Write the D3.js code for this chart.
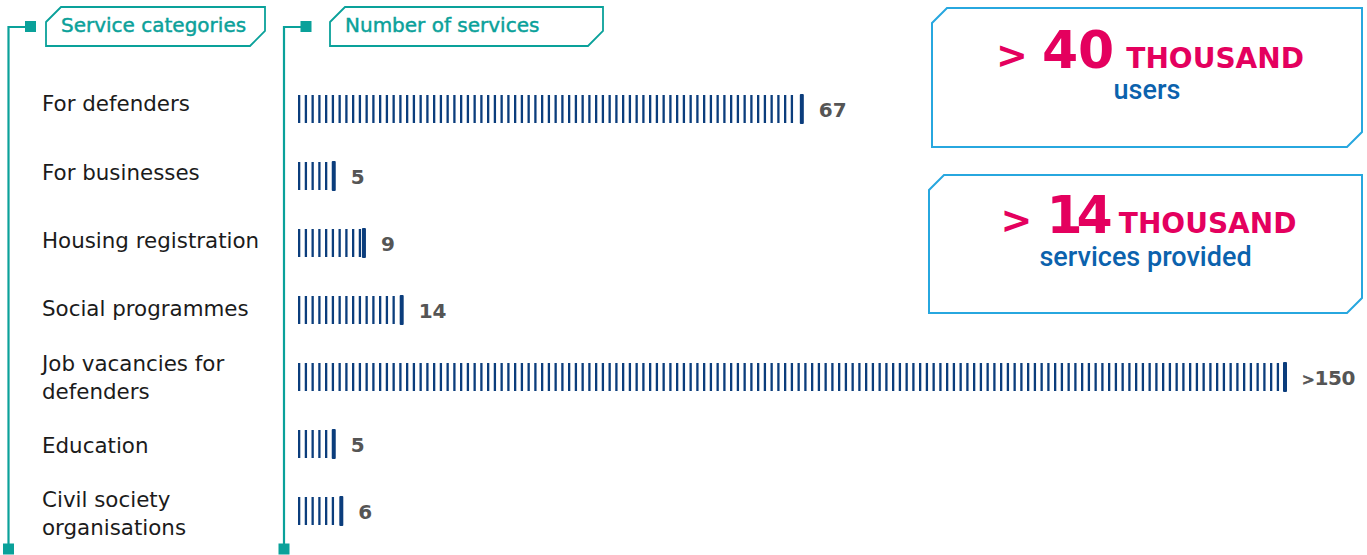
<!DOCTYPE html>
<html>
<head>
<meta charset="utf-8">
<script src="https://cdn.jsdelivr.net/npm/d3@7"></script>
<style>
  html, body { margin: 0; padding: 0; background: #ffffff; }
  svg { display: block; }
</style>
</head>
<body>
<svg id="chart" width="1367" height="555"></svg>
<script>
// ---- data ----
const categories = [
  ["For defenders"],
  ["For businesses"],
  ["Housing registration"],
  ["Social programmes"],
  ["Job vacancies for", "defenders"],
  ["Education"],
  ["Civil society", "organisations"]
];
const serviceCounts = [67, 5, 9, 14, 150, 5, 6];
const countLabels = ["67", "5", "9", "14", ">150", "5", "6"];
const headerTitles = ["Service categories", "Number of services"];
const statNumbers = ["40", "14"];
const statUnits = ["THOUSAND", "THOUSAND"];
const statCaptions = ["users", "services provided"];
// one tick represents one service; the open-ended row is cut at the edge
const axisMax = 131;

// ---- styles ----
const TEAL = "#0aa19a";
const NAVY = "#0b3d7c";
const GREY = "#555555";
const PINK = "#e4005e";
const BLUE = "#0b62ad";
const SKY = "#27a7df";

const svg = d3.select("#chart");

// ---- scales ----
const x = d3.scaleLinear().domain([0, axisMax]).range([298, 1287]).clamp(true);
const yBar = d3.scalePoint().domain(d3.range(categories.length)).range([109, 511]);
const yLabel = d3.scalePoint().domain(d3.range(categories.length)).range([104, 514]);

// ---- chamfered frame helper ----
function chamfer(x0, y0, x1, y1, c) {
  return `M${x0},${y0 + c} L${x0 + c},${y0} L${x1},${y0} L${x1},${y1 - c} L${x1 - c},${y1} L${x0},${y1} Z`;
}

// ---- column brackets and headers ----
const headers = [
  { lineX: 8.5, box: [46, 7, 265, 46], textX: 61 },
  { lineX: 284, box: [330, 7, 603, 46], textX: 345 }
];
headers.forEach((h, i) => {
  const g = svg.append("g");
  g.append("path")
    .attr("d", `M${h.lineX},549 L${h.lineX},27 L${h.lineX + 22},27`)
    .attr("fill", "none").attr("stroke", TEAL).attr("stroke-width", 2.2);
  g.append("rect").attr("x", h.lineX + 16.5).attr("y", 21).attr("width", 11).attr("height", 11).attr("fill", TEAL);
  g.append("rect").attr("x", h.lineX - 5.5).attr("y", 543.5).attr("width", 11).attr("height", 11).attr("fill", TEAL);
  const [bx0, by0, bx1, by1] = h.box;
  g.append("path").attr("d", chamfer(bx0, by0, bx1, by1, 15))
    .attr("fill", "none").attr("stroke", TEAL).attr("stroke-width", 1.8);
  g.append("text").attr("x", h.textX).attr("y", 32)
    .attr("font-family", "'DejaVu Sans', sans-serif").attr("font-size", 20)
    .attr("fill", TEAL).attr("stroke", TEAL).attr("stroke-width", 0.45)
    .text(headerTitles[i]);
});

// ---- category labels ----
const labelG = svg.append("g")
  .attr("font-family", "'DejaVu Sans', sans-serif").attr("font-size", 21.4).attr("fill", "#1b1b1b");
categories.forEach((lines, i) => {
  const cy = yLabel(i);
  const lh = 28;
  const top = cy - (lines.length - 1) * lh / 2;
  lines.forEach((t, j) => {
    labelG.append("text").attr("x", 42).attr("y", top + j * lh).attr("dy", "0.35em").text(t);
  });
});

// ---- tick bars ----
const barH = 28;
const tickStep = 6.75;
const bars = svg.append("g");
serviceCounts.forEach((v, i) => {
  const end = x(v);
  const cy = yBar(i);
  const g = bars.append("g");
  const ticks = d3.range(x(0), end - 7, tickStep);
  g.selectAll("rect.tick").data(ticks).join("rect")
    .attr("class", "tick")
    .attr("x", d => d).attr("y", cy - barH / 2)
    .attr("width", 2.3).attr("height", barH)
    .attr("fill", NAVY);
  g.append("rect").attr("x", end - 4).attr("y", cy - barH / 2 - 1)
    .attr("width", 4).attr("height", barH + 2).attr("rx", 1).attr("fill", NAVY);
  const label = g.append("text").attr("x", end + 15).attr("y", cy + 1).attr("dy", "0.35em")
    .attr("font-family", "'DejaVu Sans', sans-serif").attr("font-weight", "bold")
    .attr("font-size", 20).attr("fill", GREY);
  const txt = countLabels[i];
  if (txt.startsWith(">")) {
    label.append("tspan").attr("font-size", 15).attr("font-weight", "normal")
      .attr("stroke", GREY).attr("stroke-width", 0.8).text(">");
    label.append("tspan").attr("letter-spacing", -0.5).text(txt.slice(1));
  } else {
    label.text(txt);
  }
});

// ---- headline stat boxes ----
const stats = [
  { box: [932, 8, 1362, 147], numY: 68, capY: 99 },
  { box: [929, 175, 1362, 313], numY: 233, capY: 266 }
];
stats.forEach((s, i) => {
  const [bx0, by0, bx1, by1] = s.box;
  const cx = (bx0 + bx1) / 2;
  const g = svg.append("g");
  g.append("path").attr("d", chamfer(bx0, by0, bx1, by1, 15))
    .attr("fill", "none").attr("stroke", SKY).attr("stroke-width", 2);
  const t = g.append("text").attr("x", cx + 3).attr("y", s.numY).attr("text-anchor", "middle")
    .attr("font-family", "'DejaVu Sans', sans-serif").attr("fill", PINK);
  t.append("tspan").attr("font-size", 38).attr("font-weight", "bold").text(">");
  t.append("tspan").attr("font-size", 52).attr("font-weight", "bold").attr("dx", 14)
    .attr("letter-spacing", statNumbers[i].startsWith("1") ? -6 : 0).text(statNumbers[i]);
  t.append("tspan").attr("font-size", 28).attr("font-weight", "bold").attr("dx", 12).text(statUnits[i]);
  g.append("text").attr("x", cx).attr("y", s.capY).attr("text-anchor", "middle")
    .attr("font-family", "Roboto, sans-serif").attr("font-weight", 500)
    .attr("font-size", 27).attr("fill", BLUE).text(statCaptions[i]);
});
</script>
</body>
</html>
